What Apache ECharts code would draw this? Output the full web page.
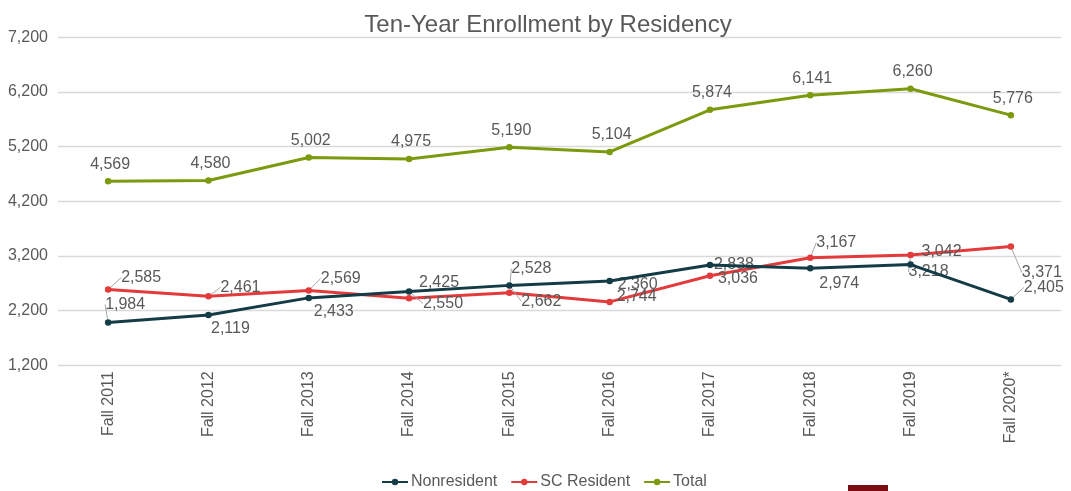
<!DOCTYPE html>
<html>
<head>
<meta charset="utf-8">
<script src="https://cdn.jsdelivr.net/npm/echarts@6/dist/echarts.min.js"></script>
<style>
  html, body { margin: 0; padding: 0; background: #ffffff; }
  #chart { width: 1071px; height: 491px; }
</style>
</head>
<body>
<div id="chart"></div>
<script>
// Fall headcount by residency, 2011–2020
const categories = ['Fall 2011', 'Fall 2012', 'Fall 2013', 'Fall 2014', 'Fall 2015',
                    'Fall 2016', 'Fall 2017', 'Fall 2018', 'Fall 2019', 'Fall 2020*'];
const nonresident = [1984, 2119, 2433, 2550, 2662, 2744, 3036, 2974, 3042, 2405];
const scResident  = [2585, 2461, 2569, 2425, 2528, 2360, 2838, 3167, 3218, 3371];
const total       = [4569, 4580, 5002, 4975, 5190, 5104, 5874, 6141, 6260, 5776];

// y-axis scale
const yMin = 1200, yMax = 7200, yStep = 1000;

// label placement (pixel offset of each label's centre from its point)
const nonresLabelOffset = [[17, -18], [22, 14], [25, 14], [34, 12], [32, 16],
                           [27, 16], [28, 14], [29, 15], [31, -13], [33, -12]];
const scLabelOffset     = [[33, -12], [32, -9], [32, -12], [30, -16], [22, -24],
                           [28, -17], [24, -11], [26, -15], [18, 17], [31, 26]];
const totalLabelOffset  = [2, -17];
// which labels get a thin leader line back to their point
const nonresLeader = [0, 3, 4, 9];
const scLeader     = [0, 1, 2, 4, 7, 8, 9];

const FONT = "'Liberation Sans', Arial, sans-serif";
const TEXT = '#595959';
const fmt = v => v.toLocaleString('en-US');

const COLORS = { nonres: '#143c46', sc: '#e33b3b', total: '#7b9a0e' };

function buildData(values, leaders) {
  return values.map((v, i) => ({
    value: v,
    labelLine: {
      show: leaders.indexOf(i) >= 0,
      lineStyle: { color: '#a6a6a6', width: 1 }
    }
  }));
}

function offsetLayout(offsets) {
  return function (params) {
    const o = offsets[params.dataIndex];
    const cx = params.rect.x + params.rect.width / 2;
    const cy = params.rect.y + params.rect.height / 2;
    return {
      x: cx + o[0],
      y: cy + o[1],
      align: 'center',
      verticalAlign: 'middle'
    };
  };
}

function lineSeries(name, values, color, extra) {
  return Object.assign({
    name: name,
    type: 'line',
    data: values,
    symbol: 'circle',
    symbolSize: 6.5,
    lineStyle: { color: color, width: 3 },
    itemStyle: { color: color },
    emphasis: { disabled: true },
    animation: false,
    label: {
      show: true,
      position: 'inside',
      formatter: p => fmt(p.value),
      fontFamily: FONT,
      fontSize: 16,
      color: TEXT
    }
  }, extra || {});
}

const chart = echarts.init(document.getElementById('chart'), null, { renderer: 'canvas' });

chart.setOption({
  backgroundColor: '#ffffff',
  animation: false,
  title: {
    text: 'Ten-Year Enrollment by Residency',
    left: 543,
    top: 8,
    textAlign: 'center',
    textStyle: { fontFamily: FONT, fontSize: 24, fontWeight: 'normal', color: TEXT }
  },
  grid: { left: 58, right: 10, top: 37.3, bottom: 125.7, containLabel: false },
  xAxis: {
    type: 'category',
    data: categories,
    boundaryGap: true,
    axisLine: { show: false },
    axisTick: { show: false },
    axisLabel: {
      rotate: 90,
      margin: 6,
      interval: 0,
      fontFamily: FONT,
      fontSize: 16,
      color: TEXT
    },
    splitLine: { show: false }
  },
  yAxis: {
    type: 'value',
    min: yMin,
    max: yMax,
    interval: yStep,
    axisLine: { show: false },
    axisTick: { show: false },
    axisLabel: {
      margin: 10,
      formatter: v => fmt(v),
      fontFamily: FONT,
      fontSize: 16,
      color: TEXT
    },
    splitLine: { lineStyle: { color: '#d9d9d9', width: 1.3 } }
  },
  legend: {
    left: 376,
    top: 469,
    itemWidth: 26,
    itemHeight: 8,
    itemGap: 13,
    textStyle: { fontFamily: FONT, fontSize: 16, color: TEXT, padding: [0, 0, 0, -2] },
    data: ['Nonresident', 'SC Resident', 'Total']
  },
  series: [
    lineSeries('Nonresident', buildData(nonresident, nonresLeader), COLORS.nonres, {
      labelLayout: offsetLayout(nonresLabelOffset), z: 3
    }),
    lineSeries('SC Resident', buildData(scResident, scLeader), COLORS.sc, {
      labelLayout: offsetLayout(scLabelOffset), z: 2
    }),
    lineSeries('Total', total, COLORS.total, {
      labelLayout: offsetLayout(total.map(() => totalLabelOffset)), z: 2
    })
  ],
  graphic: [
    {
      type: 'rect',
      left: 848,
      top: 485,
      shape: { width: 40, height: 8 },
      style: { fill: '#7c0a12' },
      silent: true
    }
  ]
});
</script>
</body>
</html>
